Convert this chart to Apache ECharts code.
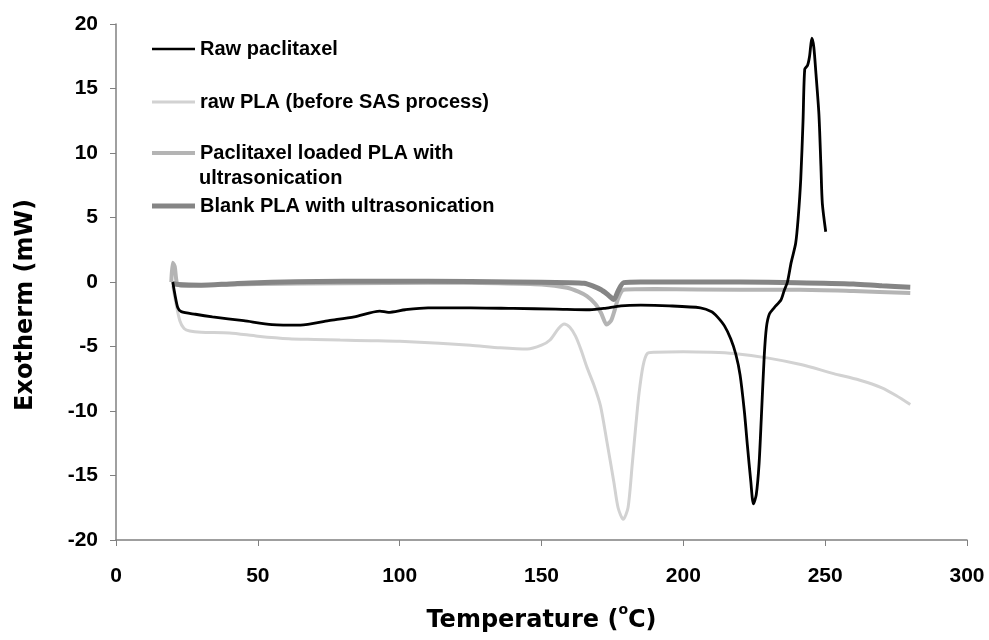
<!DOCTYPE html>
<html>
<head>
<meta charset="utf-8">
<script src="https://cdn.jsdelivr.net/npm/echarts@6/dist/echarts.min.js"></script>
<style>
  html, body { margin: 0; padding: 0; background: #fff; }
  #chart { width: 989px; height: 640px; }
</style>
</head>
<body>
<div id="chart"></div>
<script>
// DSC curves
var pacTemp = [20, 20.8, 21.8, 23, 28, 34, 45, 55, 65, 75, 84, 93, 96, 102, 110, 125, 140, 155, 167, 172, 178, 185, 195, 206, 210, 212, 214.5, 216.7, 218.5, 220, 221.5, 222.6, 223.8, 224.7, 225.7, 226.7, 227.5, 228.5, 229.3, 230.3, 232, 234.4, 235.5, 236.7, 238, 239.6, 240.5, 241.4, 242.2, 242.8, 243.8, 244.5, 245.3, 246, 246.7, 247.8, 248.5, 249, 250.2];
var pacHeat = [0, -1, -2, -2.3, -2.5, -2.7, -3, -3.3, -3.35, -3, -2.7, -2.25, -2.35, -2.15, -2, -2, -2.05, -2.1, -2.15, -2.05, -1.85, -1.8, -1.85, -2, -2.3, -2.7, -3.4, -4.4, -5.6, -7.2, -10, -12.7, -15.5, -17.2, -16.5, -14.1, -10.5, -5.8, -3.5, -2.5, -2, -1.4, -0.7, 0, 1.5, 3, 5, 8, 12.5, 16.5, 16.8, 17.5, 18.9, 18.2, 16.3, 13, 9, 6.1, 3.9];

var rawPlaTemp = [20, 21, 22.5, 24, 26, 30, 40, 50, 61, 70, 79, 90, 100, 114, 125, 135.5, 145, 150, 153, 156, 158, 160, 162, 164, 166, 168.5, 170.8, 173, 175.5, 177, 178.8, 180.5, 182, 183.3, 184.4, 185.8, 187.3, 190, 200, 210, 217.8, 230, 241.4, 253, 262, 270, 275, 280];
var rawPlaHeat = [-0.3, -1.5, -3, -3.6, -3.8, -3.9, -3.95, -4.2, -4.4, -4.45, -4.5, -4.55, -4.6, -4.75, -4.9, -5.1, -5.2, -4.9, -4.5, -3.6, -3.25, -3.5, -4.2, -5.3, -6.6, -8, -9.6, -12.3, -15.5, -17.5, -18.4, -17.5, -14.1, -11, -8.6, -6.5, -5.55, -5.45, -5.4, -5.45, -5.55, -5.9, -6.4, -7.1, -7.6, -8.2, -8.8, -9.5];

var loadedTemp = [19.5, 20, 20.7, 21.5, 23, 30, 50, 80, 110, 135, 150, 159, 163, 166, 169, 171, 173, 174.5, 175.5, 177, 179, 190, 220, 241, 260, 280];
var loadedHeat = [0, 1.5, 1.2, -0.1, -0.3, -0.25, -0.15, -0.1, -0.05, -0.1, -0.2, -0.45, -0.75, -1.1, -1.7, -2.4, -3.3, -3, -2.4, -1.3, -0.6, -0.55, -0.6, -0.6, -0.7, -0.85];

var blankTemp = [20, 22, 30, 40, 50, 80, 110, 140, 160, 165, 168, 171, 173.5, 175.5, 177, 179, 185, 220, 240, 260, 270, 280];
var blankHeat = [-0.1, -0.2, -0.25, -0.15, -0.05, 0.05, 0.05, 0, -0.05, -0.1, -0.3, -0.6, -1, -1.35, -0.7, -0.05, 0, 0, -0.05, -0.15, -0.3, -0.4];

var xTicks = [0, 50, 100, 150, 200, 250, 300];
var yTicks = [-20, -15, -10, -5, 0, 5, 10, 15, 20];

var names = ['Raw paclitaxel', 'raw PLA (before SAS process)', 'Paclitaxel loaded PLA with ultrasonication', 'Blank PLA with ultrasonication'];

function pairs(xs, ys) {
  var out = [];
  for (var i = 0; i < xs.length; i++) out.push([xs[i], ys[i]]);
  return out;
}

var legendFont = { fontFamily: 'Liberation Sans', fontWeight: 'bold', fontSize: 20, color: '#000' };

// one legend per entry so each can sit where the original put it;
// the icon is a flat rect as thick as the series line
function legendAt(name, center, thick, label) {
  return {
    data: [name], left: 152, top: center - 12, padding: 0,
    icon: 'rect', itemWidth: 43, itemHeight: thick, itemGap: 4,
    selectedMode: false,
    textStyle: legendFont,
    formatter: function () { return label || name; }
  };
}

var myChart = echarts.init(document.getElementById('chart'));
var option = {
  animation: false,
  backgroundColor: '#fff',
  grid: { left: 116, right: 22, top: 24, bottom: 100, containLabel: false, outerBoundsMode: 'none' },
  legend: [
    legendAt(names[0], 51, 2.5),
    legendAt(names[1], 104, 3),
    legendAt(names[2], 155, 4, 'Paclitaxel loaded PLA with'),
    legendAt(names[3], 208, 5)
  ],
  graphic: [{
    type: 'text', left: 199, top: 168,
    style: { text: 'ultrasonication', font: 'bold 20px "Liberation Sans"', fill: '#000' }
  }],
  xAxis: {
    type: 'value', min: 0, max: 300, interval: 50,
    name: '{t|Temperature (}{sup|o}{t|C)}', nameLocation: 'middle', nameGap: 63, nameMoveOverlap: false,
    nameTextStyle: {
      fontFamily: 'DejaVu Sans', fontWeight: 'bold', fontSize: 24, color: '#000',
      rich: {
        t: { fontFamily: 'DejaVu Sans', fontWeight: 'bold', fontSize: 24, color: '#000', verticalAlign: 'bottom', lineHeight: 30 },
        sup: { fontFamily: 'DejaVu Sans', fontWeight: 'bold', fontSize: 14, color: '#000', verticalAlign: 'top', lineHeight: 14 }
      }
    },
    axisLine: { onZero: false, lineStyle: { color: '#808080', width: 1.5 } },
    axisTick: { inside: false, length: 6, lineStyle: { color: '#808080' } },
    axisLabel: { margin: 26, fontFamily: 'Liberation Sans', fontWeight: 'bold', fontSize: 21, color: '#000',
      formatter: function (v) { return xTicks.indexOf(v) >= 0 ? String(v) : ''; } },
    splitLine: { show: false }
  },
  yAxis: {
    type: 'value', min: -20, max: 20, interval: 5,
    name: 'Exotherm (mW)', nameLocation: 'middle', nameGap: 78, nameRotate: 90, nameMoveOverlap: false,
    nameTextStyle: { fontFamily: 'DejaVu Sans', fontWeight: 'bold', fontSize: 24, color: '#000', padding: [0, 46, 0, 0] },
    axisLine: { show: true, onZero: false, lineStyle: { color: '#808080', width: 1.5 } },
    axisTick: { show: true, inside: false, length: 6, lineStyle: { color: '#808080' } },
    axisLabel: { margin: 18, fontFamily: 'Liberation Sans', fontWeight: 'bold', fontSize: 21, color: '#000',
      formatter: function (v) { return yTicks.indexOf(v) >= 0 ? String(v) : ''; } },
    splitLine: { show: false }
  },
  series: [
    { name: names[0], type: 'line', symbol: 'none', smooth: 0.25, z: 5,
      lineStyle: { color: '#000', width: 2.8 }, itemStyle: { color: '#000' },
      data: pairs(pacTemp, pacHeat) },
    { name: names[1], type: 'line', symbol: 'none', smooth: 0.25, z: 2,
      lineStyle: { color: '#d2d2d2', width: 3 }, itemStyle: { color: '#d2d2d2' },
      data: pairs(rawPlaTemp, rawPlaHeat) },
    { name: names[2], type: 'line', symbol: 'none', smooth: 0.25, z: 3,
      lineStyle: { color: '#b4b4b4', width: 4 }, itemStyle: { color: '#b4b4b4' },
      data: pairs(loadedTemp, loadedHeat) },
    { name: names[3], type: 'line', symbol: 'none', smooth: 0.25, z: 4,
      lineStyle: { color: '#858585', width: 5 }, itemStyle: { color: '#858585' },
      data: pairs(blankTemp, blankHeat) }
  ]
};
myChart.setOption(option);
</script>
</body>
</html>
